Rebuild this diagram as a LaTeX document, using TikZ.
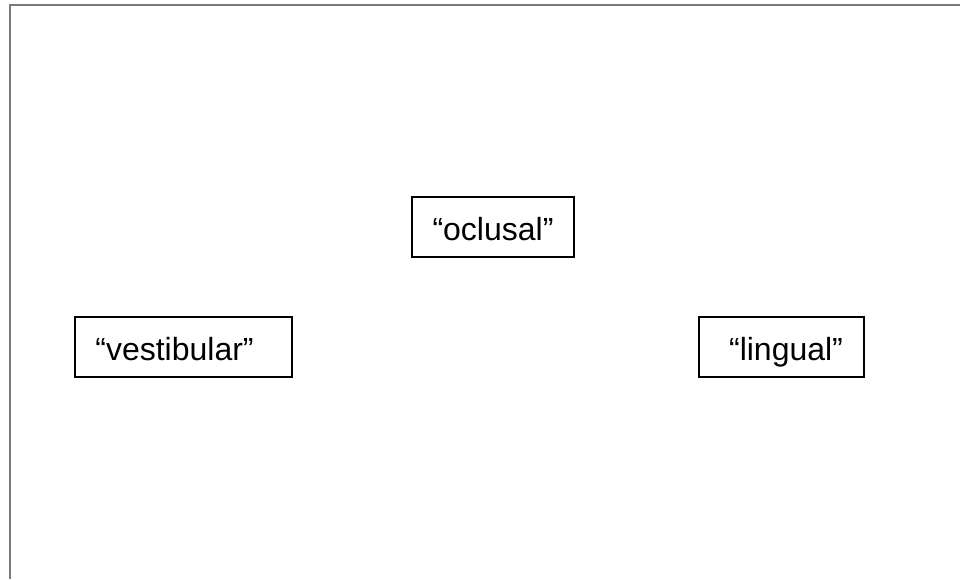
\documentclass[tikz,border=0pt]{standalone}
\usepackage{fontspec}
\setmainfont{Liberation Sans}
\begin{document}
\begin{tikzpicture}[x=0.75pt,y=-0.75pt,
  frameline/.style={draw=gray!95!black, line width=1.5pt},
  labelbox/.style={draw=black, line width=0.9pt, rectangle, inner sep=0pt},
  labeltext/.style={font=\fontsize{24}{28}\selectfont, inner sep=0pt, anchor=base}]
\useasboundingbox (0,0) rectangle (960,579);
\coordinate (ftl) at (10,5);
\coordinate (fbl) at (10,579);
\coordinate (ftr) at (960,5);
\draw[frameline] (fbl) -- (ftl) -- (ftr);
\node[labelbox, minimum width=121.5pt, minimum height=45pt] (ocl) at (493,227) {};
\node[labelbox, minimum width=162.75pt, minimum height=45pt] (vesb) at (183.5,347) {};
\node[labelbox, minimum width=123.75pt, minimum height=45pt] (ling) at (781.5,347) {};
\node[labeltext] (oclt) at (493,240) {“oclusal”};
\node[labeltext] (vest) at (174.5,360) {“vestibular”};
\node[labeltext] (lint) at (786,360) {“lingual”};
\end{tikzpicture}
\end{document}
